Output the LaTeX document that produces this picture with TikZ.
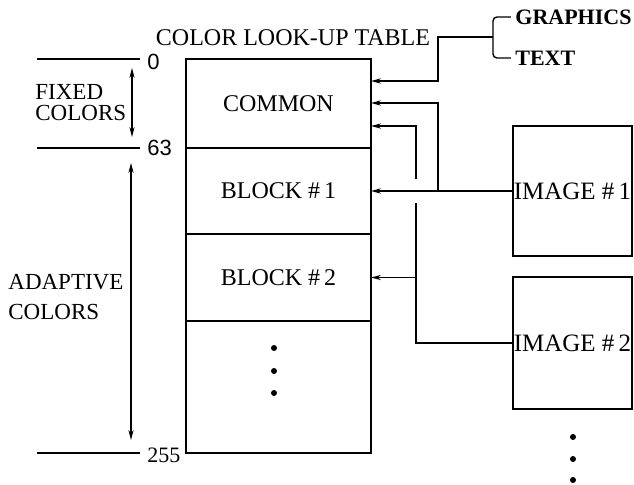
\documentclass[tikz,border=0pt]{standalone}
\usepackage{fontspec}
\setmainfont{Liberation Serif}
\newfontfamily\numfont{Liberation Sans}
\usetikzlibrary{arrows.meta, positioning, calc}

\begin{document}
\begin{tikzpicture}[
    x=0.5pt, y=-0.5pt,
    cell/.style={rectangle, draw, line width=1.1pt, minimum width=92.5pt, inner sep=0pt, outer sep=0pt, font=\fontsize{12}{14}\selectfont},
    imgbox/.style={rectangle, draw, line width=1.1pt, minimum width=59.5pt, inner sep=0pt, outer sep=0pt, font=\fontsize{12.5}{14}\selectfont},
    lbl/.style={font=\fontsize{12}{14}\selectfont, inner sep=0pt},
    src/.style={font=\fontsize{11}{13}\selectfont\bfseries, inner sep=2pt, anchor=west},
    num/.style={font=\fontsize{11}{13}\selectfont, inner sep=0pt, anchor=west},
    rule/.style={line width=0.7pt},
    feed/.style={line width=0.7pt, -{Stealth[length=5pt, width=2.6pt]}},
    span/.style={line width=0.7pt, {Stealth[length=5pt, width=2.6pt]}-{Stealth[length=5pt, width=2.6pt]}},
    node distance=0pt,
]
\useasboundingbox (0,0) rectangle (634,484);

% look-up table
\node[cell, minimum height=44.5pt] (common) at (278.5,103.5) {COMMON};
\node[cell, minimum height=43pt, below=of common] (blk1) {BLOCK \#\,1};
\node[cell, minimum height=43.5pt, below=of blk1] (blk2) {BLOCK \#\,2};
\node[cell, minimum height=66pt, below=of blk2] (rest) {};
\foreach \y in {348,371,393} \fill (274,\y) circle (1.5pt);
\node[lbl] (title) at (293,38) {COLOR LOOK-UP TABLE};

% scale on the left
\node[num] (n0) at (147,62) {\numfont 0};
\node[num] (n63) at (147,148) {\numfont 63};
\node[num] (n255) at (147,455) {255};
\draw[rule] (37,59) -- (140,59);
\draw[rule] (37,148) -- (140,148);
\draw[rule] (37,453) -- (140,453);
\draw[span] (132,68) -- (132,137);
\draw[span] (131,163) -- (131,440);
\node[lbl, anchor=west, align=left, font=\fontsize{11.5}{10.5}\selectfont] (fixed) at (35,103) {FIXED\\COLORS};
\node[lbl, anchor=west, align=left, font=\fontsize{11.5}{15}\selectfont] (adapt) at (8,297) {ADAPTIVE\\COLORS};

% sources
\node[src] (gfx) at (511,17) {GRAPHICS};
\node[src] (txt) at (511,58) {TEXT};
\node[imgbox, minimum height=65pt] (img1) at (572.5,191) {IMAGE \#\,1};
\node[imgbox, minimum height=66pt] (img2) at (572.5,343) {IMAGE \#\,2};
\foreach \y in {437,459,480} \fill (573,\y) circle (1.5pt);

% connectors
\coordinate (brk) at (493,37);
\coordinate (busA) at (438,0);
\coordinate (busB) at (416,0);
\draw[rule, rounded corners=2pt] (gfx.west) -| (brk) |- (txt.west);
\draw[feed] (brk) -- (brk -| busA) |- ($(common.north east)+(0,22)$);
\draw[feed] (img1.west) -- (blk1.east);
\draw[feed] (img1.west -| busA) |- ($(common.north east)+(0,44)$);
\draw[rule] (img2.west) -| ($(busB |- img1.west)+(0,12)$);
\draw[feed] ($(busB |- img1.west)+(0,-12)$) |- ($(common.north east)+(0,67)$);
\draw[feed] (busB |- blk2.east) -- (blk2.east);
\end{tikzpicture}
\end{document}
